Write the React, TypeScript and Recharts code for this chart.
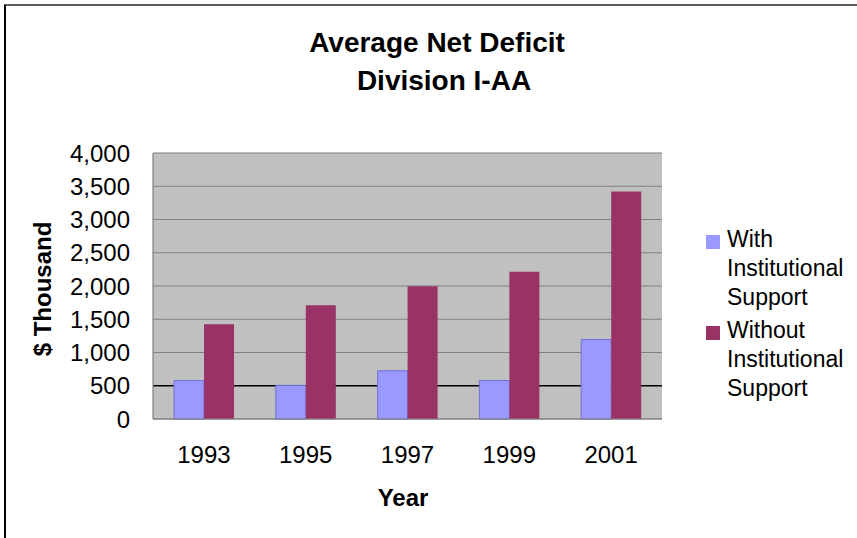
import React from "react";
import { Bar, BarChart, CartesianGrid, XAxis, YAxis } from "recharts";

const years = ["1993", "1995", "1997", "1999", "2001"];
const withSupport = [578, 505, 725, 578, 1195];
const withoutSupport = [1425, 1710, 1995, 2215, 3420];
const yTicks = [0, 500, 1000, 1500, 2000, 2500, 3000, 3500, 4000];
const seriesNames = ["With Institutional Support", "Without Institutional Support"];
const seriesColors = ["#9999FF", "#993366"];

const W = 857;
const H = 538;
const PLOT_TOP = 153;
const PLOT_H = 266;
const Y_MAX = 4000;
const FONT = '"Liberation Sans", Arial, sans-serif';

const chartData = years.map((year, i) => ({
  year,
  with: withSupport[i],
  without: withoutSupport[i],
}));

// the 500 gridline is drawn black in the original, the rest grey
const Y500 = PLOT_TOP + PLOT_H * (1 - 500 / Y_MAX);
const gridLine = (props: any) => {
  const { x1, x2, y1, y2, key } = props;
  const dark = Math.abs(y1 - Y500) < 1.5;
  return (
    <line
      key={key}
      x1={x1}
      x2={x2}
      y1={y1}
      y2={y2}
      stroke={dark ? "#000000" : "#808080"}
      strokeWidth={dark ? 1.5 : 1.2}
    />
  );
};

const LegendBox = () => (
  <div style={{ fontFamily: FONT, fontSize: 23, lineHeight: "29px", color: "#000" }}>
    {seriesNames.map((name, i) => (
      <div key={name} style={{ position: "relative", paddingLeft: 21, width: 130, marginBottom: 4 }}>
        <span
          style={{
            position: "absolute",
            left: 0,
            top: 10,
            width: 14,
            height: 14,
            background: seriesColors[i],
          }}
        />
        {name}
      </div>
    ))}
  </div>
);

export default function App() {
  return (
    <div style={{ position: "relative", width: W, height: H, overflow: "hidden", background: "#fff" }}>
      <style>{`body{margin:0}`}</style>
      <div
        style={{
          position: "absolute",
          left: 4,
          top: 4,
          width: W + 20,
          height: H + 20,
          borderLeft: "2px solid #000",
          borderTop: "2px solid #5a5a5a",
        }}
      />
      <div
        style={{
          position: "absolute",
          left: 0,
          width: 874,
          top: 24,
          textAlign: "center",
          fontFamily: FONT,
          fontWeight: "bold",
          fontSize: 28,
          lineHeight: "38px",
        }}
      >
        <div>Average Net Deficit</div>
        <div style={{ paddingLeft: 14 }}>Division I-AA</div>
      </div>
      <div style={{ position: "absolute", left: 0, top: 0 }}>
        <BarChart
          width={W}
          height={H}
          data={chartData}
          margin={{ top: PLOT_TOP, right: 195, bottom: 59, left: 0 }}
          barGap={0}
          barSize={30}
        >
          <CartesianGrid vertical={false} horizontal={gridLine} fill="#C0C0C0" />
          <XAxis
            dataKey="year"
            height={60}
            tickLine={false}
            tickSize={0}
            tickMargin={27}
            axisLine={{ stroke: "#808080", strokeWidth: 1.2 }}
            tick={{ fill: "#000", fontSize: 24, fontFamily: FONT }}
            label={{
              content: () => (
                <text x={403} y={506} textAnchor="middle" fontFamily={FONT} fontWeight="bold" fontSize={24} fill="#000">
                  Year
                </text>
              ),
            }}
          />
          <YAxis
            width={153}
            domain={[0, Y_MAX]}
            ticks={yTicks}
            interval={0}
            tickLine={false}
            tickSize={0}
            tickMargin={23}
            axisLine={{ stroke: "#808080", strokeWidth: 1.2 }}
            tick={{ fill: "#000", fontSize: 24, fontFamily: FONT }}
            tickFormatter={(v: number) => v.toLocaleString("en-US")}
            label={{
              content: () => (
                <text
                  x={42.5}
                  y={289}
                  transform="rotate(-90, 42.5, 289)"
                  textAnchor="middle"
                  dominantBaseline="central"
                  fontFamily={FONT}
                  fontWeight="bold"
                  fontSize={24}
                  fill="#000"
                >
                  $ Thousand
                </text>
              ),
            }}
          />
          <YAxis
            yAxisId="right"
            orientation="right"
            width={0}
            domain={[0, Y_MAX]}
            tick={false}
            tickLine={false}
            axisLine={{ stroke: "#808080", strokeWidth: 1.2 }}
          />
          <Bar
            dataKey="with"
            name={seriesNames[0]}
            fill={seriesColors[0]}
            stroke="#7070d4"
            strokeWidth={1}
            isAnimationActive={false}
          />
          <Bar dataKey="without" name={seriesNames[1]} fill={seriesColors[1]} isAnimationActive={false} />
        </BarChart>
      </div>
      <div style={{ position: "absolute", left: 706, top: 224.5 }}>
        <LegendBox />
      </div>
    </div>
  );
}
